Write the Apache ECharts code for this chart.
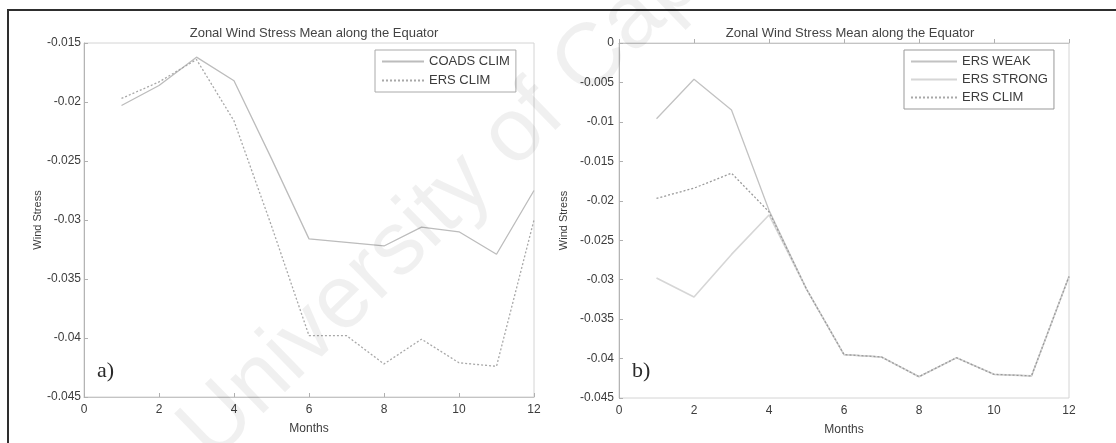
<!DOCTYPE html>
<html>
<head>
<meta charset="utf-8">
<script src="https://cdn.jsdelivr.net/npm/echarts@6/dist/echarts.min.js"></script>
<style>
html,body{margin:0;padding:0;background:#fff;}
#chart{width:1116px;height:443px;}
</style>
</head>
<body>
<div id="chart"></div>
<script>
// ---- data ----
const months = [1, 2, 3, 4, 5, 6, 7, 8, 9, 10, 11, 12];
const coadsClim = [-0.0203, -0.0186, -0.0162, -0.0182, -0.0248, -0.0316, -0.0319, -0.0322, -0.0306, -0.0310, -0.0329, -0.0275];
const ersClimA  = [-0.0197, -0.0183, -0.0164, -0.0216, -0.0305, -0.0398, -0.0398, -0.0422, -0.0401, -0.0421, -0.0424, -0.0300];
const ersWeak   = [-0.0096, -0.0046, -0.0085, -0.0212, -0.0312, -0.0395, -0.0398, -0.0423, -0.0399, -0.0420, -0.0422, -0.0296];
const ersStrong = [-0.0298, -0.0322, -0.0268, -0.0218, -0.0312, -0.0395, -0.0398, -0.0423, -0.0399, -0.0420, -0.0422, -0.0296];
const ersClimB  = [-0.0197, -0.0184, -0.0165, -0.0214, -0.0312, -0.0395, -0.0398, -0.0423, -0.0399, -0.0420, -0.0422, -0.0296];
const xTicks = [0, 2, 4, 6, 8, 10, 12];
const yTicksA = ['-0.045', '-0.04', '-0.035', '-0.03', '-0.025', '-0.02', '-0.015'];
const yTicksB = ['-0.045', '-0.04', '-0.035', '-0.03', '-0.025', '-0.02', '-0.015', '-0.01', '-0.005', '0'];
const titleText = 'Zonal Wind Stress Mean along the Equator';
const xName = 'Months';
const yName = 'Wind Stress';

const pairs = vals => months.map((m, i) => [m, vals[i]]);
const fmt = v => { const s = parseFloat(Number(v).toFixed(4)); return s === 0 ? '0' : String(s); };
const txt = '#3c3c3c';
const font = 'Liberation Sans';

function xAx(gi) {
  return {
    type: 'value', gridIndex: gi, min: xTicks[0], max: xTicks[xTicks.length - 1], interval: xTicks[1] - xTicks[0],
    name: xName, nameLocation: 'middle', nameGap: 26,
    nameTextStyle: { color: txt, fontSize: 12, fontFamily: font },
    axisLine: { lineStyle: { color: '#c4c4c4', width: 1 } },
    axisTick: { inside: true, length: 4, lineStyle: { color: '#b0b0b0' } },
    axisLabel: { color: txt, fontSize: 12, fontFamily: font, margin: 7, showMinLabel: true, showMaxLabel: true },
    splitLine: { show: false }
  };
}
function yAx(gi, ticks, gap, lblMargin) {
  const vals = ticks.map(Number);
  return {
    type: 'value', gridIndex: gi, min: vals[0], max: vals[vals.length - 1], interval: 0.005,
    name: yName, nameLocation: 'middle', nameGap: gap,
    nameTextStyle: { color: txt, fontSize: 11, fontFamily: font },
    axisLine: { show: true, lineStyle: { color: '#b4b4b4', width: 1 } },
    axisTick: { inside: true, length: 4, lineStyle: { color: '#b0b0b0' } },
    axisLabel: { color: txt, fontSize: 12, fontFamily: font, margin: lblMargin, showMinLabel: true, showMaxLabel: true,
      formatter: v => fmt(v) },
    splitLine: { show: false }
  };
}
function line(name, vals, xi, color, type, width) {
  return {
    name: name, type: 'line', xAxisIndex: xi, yAxisIndex: xi, data: pairs(vals),
    symbol: 'none', smooth: false, animation: false,
    lineStyle: { color: color, width: width, type: type }, itemStyle: { color: color }
  };
}

const legendBase = {
  orient: 'vertical', padding: [5, 6], itemHeight: 13, selectedMode: false,
  itemStyle: { opacity: 0 },
  textStyle: { color: txt, fontSize: 13, fontFamily: font }
};

const chart = echarts.init(document.getElementById('chart'), null, { renderer: 'canvas' });
chart.setOption({
  backgroundColor: '#ffffff',
  animation: false,
  title: [
    { text: titleText, left: 309, top: 22, textAlign: 'center',
      textStyle: { color: '#444', fontSize: 13, fontWeight: 'normal', fontFamily: font } },
    { text: titleText, left: 845, top: 22, textAlign: 'center',
      textStyle: { color: '#444', fontSize: 13, fontWeight: 'normal', fontFamily: font } }
  ],
  grid: [
    { left: 84, top: 43, width: 450, height: 354, show: true, borderColor: '#d4d4d4', borderWidth: 1 },
    { left: 619, top: 43, width: 450, height: 355, show: true, borderColor: '#d4d4d4', borderWidth: 1 }
  ],
  xAxis: [xAx(0), xAx(1)],
  yAxis: [yAx(0, yTicksA, 36, 3), yAx(1, yTicksB, 50, 5)],
  legend: [
    Object.assign({}, legendBase, { data: ['COADS CLIM', 'ERS CLIM'], left: 375, top: 50,
      itemGap: 6, itemWidth: 42, borderColor: '#aaa', borderWidth: 1 }),
    Object.assign({}, legendBase, { data: ['ERS WEAK', 'ERS STRONG', 'ERS CLIM'], left: 904, top: 50,
      itemGap: 5, itemWidth: 46, borderColor: '#999', borderWidth: 1 })
  ],
  series: [
    line('COADS CLIM', coadsClim, 0, '#bcbcbc', 'solid', 1.3),
    line('ERS CLIM', ersClimA, 0, '#a8a8a8', [2, 2], 1.3),
    line('ERS WEAK', ersWeak, 1, '#c2c2c2', 'solid', 1.3),
    line('ERS STRONG', ersStrong, 1, '#d6d6d6', 'solid', 1.6),
    line('ERS CLIM', ersClimB, 1, '#9a9a9a', [2, 2], 1.3)
  ],
  graphic: [
    { type: 'rect', shape: { x: 8, y: 9, width: 1108, height: 2 }, style: { fill: '#2e2e2e' }, silent: true },
    { type: 'rect', shape: { x: 7, y: 9, width: 2, height: 434 }, style: { fill: '#2e2e2e' }, silent: true },
    { type: 'text', left: 97, top: 360, style: { text: 'a)', font: '22px "Liberation Serif"', fill: '#2a2a2a' }, silent: true },
    { type: 'text', left: 632, top: 360, style: { text: 'b)', font: '22px "Liberation Serif"', fill: '#2a2a2a' }, silent: true },
    { type: 'text', x: 195, y: 445, rotation: 0.77, z: 100, silent: true,
      style: { text: 'University of Cape Town', font: '90px "Liberation Sans"', fill: 'rgba(0,0,0,0.06)',
        textAlign: 'left', textVerticalAlign: 'middle' } }
  ]
});
</script>
</body>
</html>
